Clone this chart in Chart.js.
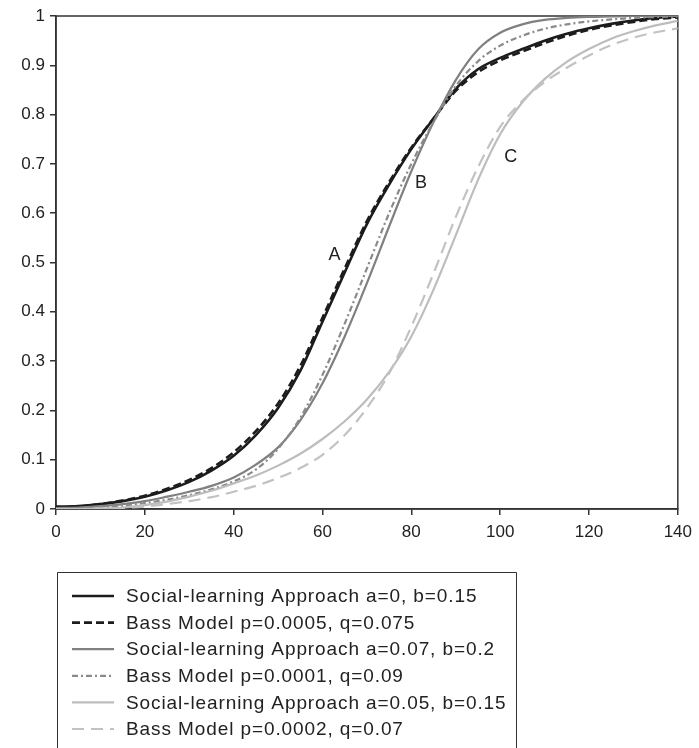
<!DOCTYPE html>
<html>
<head>
<meta charset="utf-8">
<script src="https://cdn.jsdelivr.net/npm/chart.js@4.4.1/dist/chart.umd.min.js"></script>
<style>
html,body{margin:0;padding:0;background:#fff;}
#wrap{width:699px;height:748px;position:relative;overflow:hidden;}
</style>
</head>
<body>
<div id="wrap"><canvas id="c" width="699" height="748"></canvas></div>
<script>
// ---- data ----
const days = [0,5,10,15,20,25,30,35,40,45,50,55,60,65,70,75,80,85,90,95,100,105,110,115,120,125,130,135,140];

const socialA = [0.005,0.006,0.010,0.016,0.025,0.038,0.055,0.078,0.108,0.150,0.205,0.280,0.380,0.480,0.578,0.658,0.730,0.792,0.852,0.892,0.915,0.933,0.950,0.964,0.975,0.984,0.991,0.996,0.999];
const bassA   = [0.003,0.005,0.010,0.017,0.027,0.041,0.059,0.083,0.115,0.158,0.214,0.290,0.388,0.488,0.584,0.663,0.733,0.792,0.848,0.886,0.910,0.928,0.945,0.960,0.972,0.981,0.988,0.994,0.997];
const socialB = [0.002,0.003,0.006,0.010,0.016,0.025,0.035,0.047,0.064,0.090,0.125,0.180,0.255,0.350,0.458,0.573,0.685,0.785,0.870,0.932,0.966,0.983,0.992,0.996,0.998,0.999,1.000,1.000,1.000];
const bassB   = [0.001,0.002,0.004,0.007,0.012,0.019,0.028,0.040,0.056,0.080,0.122,0.185,0.272,0.376,0.488,0.600,0.700,0.785,0.858,0.908,0.940,0.960,0.974,0.983,0.989,0.993,0.996,0.998,0.999];
const socialC = [0.000,0.000,0.001,0.003,0.008,0.015,0.025,0.037,0.052,0.068,0.088,0.112,0.142,0.178,0.222,0.278,0.350,0.445,0.555,0.667,0.760,0.825,0.872,0.907,0.933,0.954,0.969,0.981,0.990];
const bassC   = [0.000,0.000,0.001,0.002,0.005,0.010,0.016,0.024,0.035,0.047,0.063,0.083,0.110,0.150,0.205,0.275,0.370,0.478,0.592,0.693,0.775,0.828,0.866,0.895,0.920,0.941,0.956,0.967,0.975];

const seriesLabels = [
  "Social-learning Approach a=0, b=0.15",
  "Bass Model p=0.0005, q=0.075",
  "Social-learning Approach a=0.07, b=0.2",
  "Bass Model p=0.0001, q=0.09",
  "Social-learning Approach a=0.05, b=0.15",
  "Bass Model p=0.0002, q=0.07"
];
const xTicks = [0,20,40,60,80,100,120,140];
const yTicks = [0,0.1,0.2,0.3,0.4,0.5,0.6,0.7,0.8,0.9,1];
const curveNames = ["A","B","C"];
const curveNameX = [62.7, 82.2, 102.4];
const curveNameY = [0.515, 0.661, 0.714];

// ---- styles ----
const FONT = '"Liberation Sans", Arial, Helvetica, sans-serif';
const styles = [
  {color:'#1c1c1c', width:2.6, dash:[]},
  {color:'#1c1c1c', width:2.6, dash:[8,4]},
  {color:'#808080', width:2.2, dash:[]},
  {color:'#8a8a8a', width:2.2, dash:[6,3,2,3]},
  {color:'#bdbdbd', width:2.2, dash:[]},
  {color:'#c2c2c2', width:2.2, dash:[12,7]}
];
const seriesValues = [socialA, bassA, socialB, bassB, socialC, bassC];

const datasets = seriesValues.map((vals, i) => ({
  label: seriesLabels[i],
  data: days.map((d, j) => ({x: d, y: vals[j]})),
  borderColor: styles[i].color,
  borderWidth: styles[i].width,
  borderDash: styles[i].dash,
  fill: false,
  pointRadius: 0,
  cubicInterpolationMode: 'monotone'
})).reverse(); // draw light curves first, black on top

const framePlugin = {
  id: 'frame',
  beforeDatasetsDraw(chart) {
    const {ctx, chartArea: a} = chart;
    ctx.save();
    ctx.strokeStyle = '#333';
    ctx.lineWidth = 1.5;
    ctx.strokeRect(a.left, a.top, a.right - a.left, a.bottom - a.top);
    ctx.restore();
  }
};

const curveNamePlugin = {
  id: 'curveNames',
  afterDatasetsDraw(chart) {
    const {ctx, scales} = chart;
    ctx.save();
    ctx.fillStyle = '#222';
    ctx.font = '18px ' + FONT;
    ctx.textAlign = 'center';
    ctx.textBaseline = 'middle';
    curveNames.forEach((n, i) => {
      ctx.fillText(n, scales.x.getPixelForValue(curveNameX[i]), scales.y.getPixelForValue(curveNameY[i]));
    });
    ctx.restore();
  }
};

const legendPlugin = {
  id: 'boxLegend',
  afterDraw(chart, args, o) {
    const ctx = chart.ctx;
    ctx.save();
    ctx.strokeStyle = '#333';
    ctx.lineWidth = 1;
    ctx.beginPath();
    ctx.moveTo(o.left + 0.5, 760);
    ctx.lineTo(o.left + 0.5, o.top + 0.5);
    ctx.lineTo(o.right + 0.5, o.top + 0.5);
    ctx.lineTo(o.right + 0.5, 760);
    ctx.stroke();
    const items = chart.data.datasets.slice().reverse();
    items.forEach((ds, i) => {
      const y = o.firstRow + i * o.rowGap;
      ctx.setLineDash(ds.borderDash || []);
      ctx.strokeStyle = ds.borderColor;
      ctx.lineWidth = ds.borderWidth;
      ctx.beginPath();
      ctx.moveTo(o.lineX0, y);
      ctx.lineTo(o.lineX1, y);
      ctx.stroke();
      ctx.setLineDash([]);
      ctx.fillStyle = '#222';
      ctx.font = '19px ' + FONT;
      try { ctx.letterSpacing = '0.9px'; } catch (e) {}
      ctx.textBaseline = 'middle';
      ctx.textAlign = 'left';
      ctx.fillText(ds.label, o.textX, y + 1);
    });
    ctx.restore();
  }
};

new Chart(document.getElementById('c'), {
  type: 'line',
  data: {datasets},
  plugins: [framePlugin, curveNamePlugin, legendPlugin],
  options: {
    responsive: false,
    animation: false,
    devicePixelRatio: 1,
    layout: {padding: {left: 0, right: 18, top: 16, bottom: 199}},
    plugins: {
      legend: {display: false},
      tooltip: {enabled: false},
      boxLegend: {left: 57, right: 516, top: 572, firstRow: 596, rowGap: 26.6, lineX0: 72, lineX1: 114, textX: 126}
    },
    scales: {
      x: {
        type: 'linear', min: 0, max: 140,
        afterBuildTicks(s) { s.ticks = xTicks.map(v => ({value: v})); },
        ticks: {color: '#222', font: {family: FONT, size: 17}, padding: 7, maxRotation: 0, autoSkip: false,
                callback: v => String(v)},
        grid: {drawOnChartArea: false, drawTicks: true, tickLength: 6, color: '#333', lineWidth: 1.5},
        border: {display: true, color: '#333', width: 1.5},
        afterFit(s) { s.height = 40; }
      },
      y: {
        type: 'linear', min: 0, max: 1,
        afterBuildTicks(s) { s.ticks = yTicks.map(v => ({value: v})); },
        ticks: {color: '#222', font: {family: FONT, size: 17}, padding: 5, autoSkip: false,
                callback: v => String(Math.round(v * 10) / 10)},
        grid: {drawOnChartArea: false, drawTicks: true, tickLength: 6, color: '#333', lineWidth: 1.5},
        border: {display: true, color: '#333', width: 1.5},
        afterFit(s) { s.width = 56; }
      }
    }
  }
});
</script>
</body>
</html>
